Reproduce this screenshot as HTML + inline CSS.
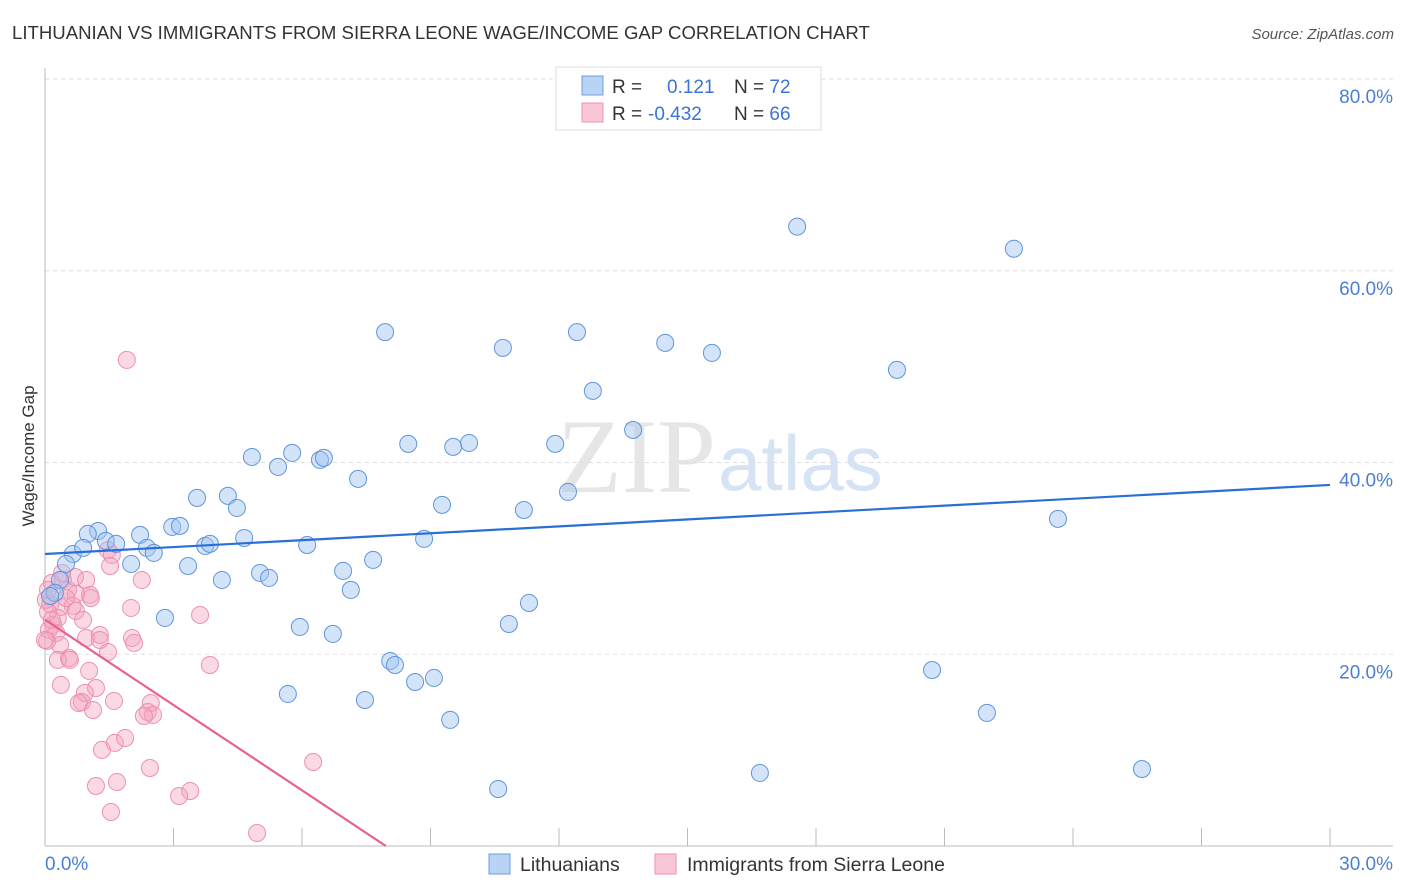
<!DOCTYPE html>
<html><head><meta charset="utf-8"><style>
body{margin:0;background:#fff;font-family:"Liberation Sans",sans-serif;}
svg{display:block}
</style></head><body>
<svg id="chart" width="1406" height="892">
<text x="12" y="39" font-size="18.6" fill="#333">LITHUANIAN VS IMMIGRANTS FROM SIERRA LEONE WAGE/INCOME GAP CORRELATION CHART</text>
<text x="1394" y="39" font-size="15" fill="#555" font-style="italic" text-anchor="end">Source: ZipAtlas.com</text>
<text x="716" y="492" font-size="106" fill="#e6e6e6" font-family="Liberation Serif,serif" text-anchor="end">ZIP</text>
<text x="718" y="490" font-size="78" fill="#d6e3f5" text-anchor="start">atlas</text>
<text transform="translate(34,456) rotate(-90)" font-size="17" fill="#333" text-anchor="middle">Wage/Income Gap</text>
<g id="grid"></g><g id="axes"></g><g id="pts"></g><g id="lines"></g>
<g>
<rect x="556" y="67" width="265" height="63" fill="#fff" stroke="#ddd"/>
<rect x="582" y="76" width="21" height="19" fill="#b9d3f5" stroke="#6e9ee0"/>
<rect x="582" y="103" width="21" height="19" fill="#f9c6d6" stroke="#ee92b0"/>
<text x="612" y="93" font-size="19" fill="#333">R = <tspan x="667" fill="#3b74d6">0.121</tspan><tspan x="734" fill="#333">N = </tspan><tspan fill="#3b74d6">72</tspan></text>
<text x="612" y="120" font-size="19" fill="#333">R = <tspan x="648" fill="#3b74d6">-0.432</tspan><tspan x="734" fill="#333">N = </tspan><tspan fill="#3b74d6">66</tspan></text>
</g>
<g>
<rect x="489" y="854" width="21" height="20" fill="#b9d3f5" stroke="#6e9ee0"/>
<text x="520" y="871" font-size="19.5" fill="#333">Lithuanians</text>
<rect x="655" y="854" width="21" height="20" fill="#f9c6d6" stroke="#ee92b0"/>
<text x="687" y="871" font-size="19.5" fill="#333">Immigrants from Sierra Leone</text>
</g>
</svg>
<script>
const yTicks=[20,40,60,80];
const yTickLabels=["20.0%","40.0%","60.0%","80.0%"];
const xTickCount=[0,3,6,9,12,15,18,21,24,27,30];
const xEndLabels=["0.0%","30.0%"];
const blueX=[17.56,22.62,7.94,12.42,10.69,14.48,15.57,19.89,12.79,13.73,8.48,9.53,9.9,11.91,5.77,4.83,6.42,6.51,5.44,7.31,3.55,4.27,4.48,9.27,11.18,12.21,23.65,2.97,3.15,1.24,1.0,2.22,4.65,1.42,1.66,2.38,2.54,3.74,3.85,6.12,8.85,0.65,0.89,2.01,0.49,3.34,7.66,5.02,5.23,6.96,4.13,0.35,0.23,0.12,7.14,11.3,2.8,5.95,6.72,10.83,8.06,8.17,20.71,8.64,9.08,5.67,7.47,21.99,9.46,16.69,25.61,10.58];
const blueY=[64.6,62.3,53.6,53.6,51.96,52.48,51.43,49.66,47.47,43.4,41.94,41.63,42.04,41.94,41.0,40.58,40.27,40.48,39.54,38.29,36.31,36.52,35.26,35.58,35.05,36.93,34.12,33.28,33.39,32.86,32.55,32.45,32.13,31.82,31.51,31.09,30.57,31.3,31.51,31.4,32.03,30.46,31.09,29.42,29.42,29.21,29.84,28.48,27.96,28.69,27.75,27.75,26.4,26.08,26.71,25.35,23.79,22.85,22.12,23.16,19.3,18.88,18.36,17.11,17.53,15.86,15.23,13.88,13.15,7.62,8.03,5.95];
const pinkX=[1.91,1.47,1.56,1.52,2.26,0.42,0.16,0.54,1.05,1.07,0.72,0.12,0.37,0.65,0.72,2.01,3.62,0.3,0.89,0.19,0.09,0.26,0.96,1.28,2.03,2.08,0.35,0.05,1.47,0.56,3.85,1.03,0.37,1.19,0.93,0.86,0.79,1.12,1.61,2.47,2.4,2.52,2.31,1.33,1.63,1.87,6.26,2.45,1.68,1.19,3.39,3.13,1.54,4.95,0.07,0.02,0.16,0,0.49,0.7,1.28,0.96,0.3,0.58,0.07,0.4];
const pinkY=[50.7,30.88,30.36,29.21,27.75,27.75,27.44,26.71,26.19,25.87,26.29,25.25,24.93,25.04,24.52,24.83,24.1,23.79,23.58,23.06,22.54,22.22,21.7,22.01,21.7,21.18,20.97,21.39,20.24,19.61,18.88,18.26,16.8,16.48,15.96,15.02,14.92,14.19,15.13,14.92,13.98,13.67,13.56,10.02,10.75,11.27,8.76,8.14,6.68,6.26,5.74,5.22,3.55,1.36,24.41,25.67,23.58,21.49,25.87,28.06,21.49,27.75,19.41,19.41,26.71,28.48];
const blueTrend=[30.46,37.66]; // y at x=0 and x=30
const pinkTrend=[23.6,-2.965]; // intercept, slope per %
const NS="http://www.w3.org/2000/svg";
const X0=45,X1=1330,Y0=846,Y1=79;
function sx(v){return X0+(X1-X0)*v/30;}
function sy(v){return Y0-(Y0-Y1)*v/80;}
function mk(tag,attrs,parent){const e=document.createElementNS(NS,tag);for(const k in attrs)e.setAttribute(k,attrs[k]);parent.appendChild(e);return e;}
const grid=document.getElementById('grid'),axes=document.getElementById('axes');
yTicks.forEach((t,i)=>{
 const l=mk('line',{x1:45,x2:1393,y1:sy(t),y2:sy(t),stroke:'#ddd','stroke-dasharray':'4,4'},grid);
 
 
 const tx=mk('text',{x:1393,y:sy(t)+24,'font-size':19,fill:'#4a7fd4','text-anchor':'end'},axes);
 tx.textContent=yTickLabels[i];
 
 
});
const ax=mk('line',{x1:45,x2:45,y1:68,y2:846,stroke:'#bbb'},axes);


const bx=mk('line',{x1:45,x2:1393,y1:846,y2:846,stroke:'#bbb'},axes);


xTickCount.forEach(t=>{
 const l=mk('line',{x1:sx(t),x2:sx(t),y1:828,y2:846,stroke:'#bbb'},axes);
 
 
});
const xl0=mk('text',{x:45,y:870,'font-size':19,fill:'#4a7fd4'},axes);xl0.textContent=xEndLabels[0];


const xl1=mk('text',{x:1393,y:870,'font-size':19,fill:'#4a7fd4','text-anchor':'end'},axes);xl1.textContent=xEndLabels[1];


const pts=document.getElementById('pts');
pinkX.forEach((v,i)=>{
 const c=mk('circle',{cx:sx(v),cy:sy(pinkY[i]),r:8.5,fill:'rgba(244,165,192,0.42)',stroke:'#ec90ae','stroke-width':1},pts);
 
 
});
blueX.forEach((v,i)=>{
 const c=mk('circle',{cx:sx(v),cy:sy(blueY[i]),r:8.5,fill:'rgba(160,196,240,0.45)',stroke:'#5f95dc','stroke-width':1},pts);
 
 
});
const lines=document.getElementById('lines');
const bl=mk('line',{x1:sx(0),y1:sy(blueTrend[0]),x2:sx(30),y2:sy(blueTrend[1]),stroke:'#2a6fd6','stroke-width':2.2},lines);


const xEnd=-pinkTrend[0]/pinkTrend[1];
const pl=mk('line',{x1:sx(0),y1:sy(pinkTrend[0]),x2:sx(xEnd),y2:sy(0),stroke:'#e8628e','stroke-width':2.2},lines);


</script>
</body></html>
